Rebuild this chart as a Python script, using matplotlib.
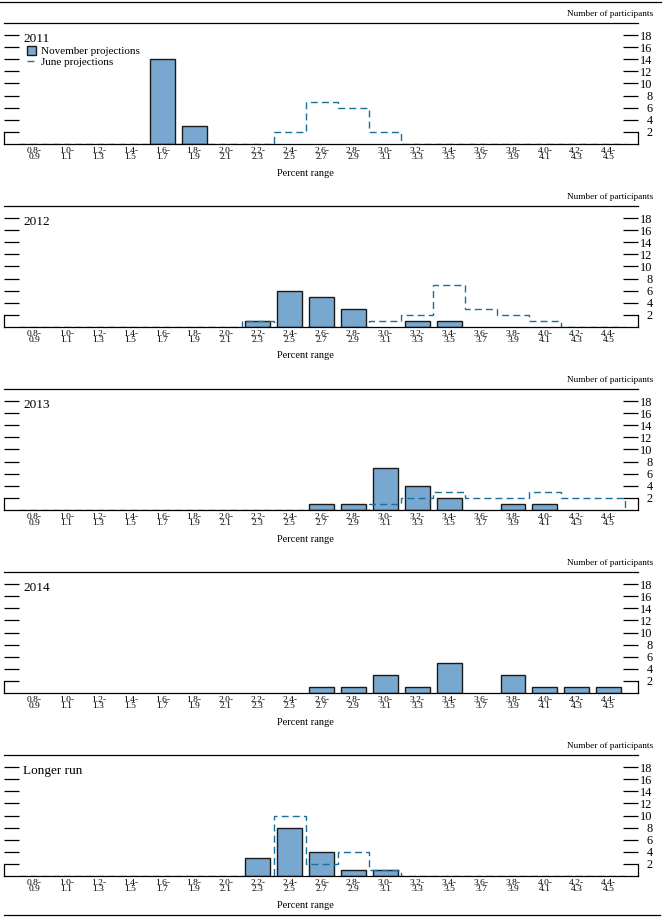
import numpy as np
import matplotlib.pyplot as plt
from matplotlib.lines import Line2D

plt.rcParams['font.family'] = ['Liberation Serif', 'DejaVu Serif']

ranges = ['0.8-\n0.9', '1.0-\n1.1', '1.2-\n1.3', '1.4-\n1.5', '1.6-\n1.7', '1.8-\n1.9',
          '2.0-\n2.1', '2.2-\n2.3', '2.4-\n2.5', '2.6-\n2.7', '2.8-\n2.9', '3.0-\n3.1',
          '3.2-\n3.3', '3.4-\n3.5', '3.6-\n3.7', '3.8-\n3.9', '4.0-\n4.1', '4.2-\n4.3',
          '4.4-\n4.5']
panels = ['2011', '2012', '2013', '2014', 'Longer run']

# number of participants per range
nov_2011 = [0, 0, 0, 0, 14, 3, 0, 0, 0, 0, 0, 0, 0, 0, 0, 0, 0, 0, 0]
jun_2011 = [0, 0, 0, 0, 0, 0, 0, 0, 2, 7, 6, 2, 0, 0, 0, 0, 0, 0, 0]
nov_2012 = [0, 0, 0, 0, 0, 0, 0, 1, 6, 5, 3, 0, 1, 1, 0, 0, 0, 0, 0]
jun_2012 = [0, 0, 0, 0, 0, 0, 0, 1, 0, 0, 0, 1, 2, 7, 3, 2, 1, 0, 0]
nov_2013 = [0, 0, 0, 0, 0, 0, 0, 0, 0, 1, 1, 7, 4, 2, 0, 1, 1, 0, 0]
jun_2013 = [0, 0, 0, 0, 0, 0, 0, 0, 0, 0, 0, 1, 2, 3, 2, 2, 3, 2, 2]
nov_2014 = [0, 0, 0, 0, 0, 0, 0, 0, 0, 1, 1, 3, 1, 5, 0, 3, 1, 1, 1]
nov_lr = [0, 0, 0, 0, 0, 0, 0, 3, 8, 4, 1, 1, 0, 0, 0, 0, 0, 0, 0]
jun_lr = [0, 0, 0, 0, 0, 0, 0, 0, 10, 2, 4, 1, 0, 0, 0, 0, 0, 0, 0]

november = [nov_2011, nov_2012, nov_2013, nov_2014, nov_lr]
june = [jun_2011, jun_2012, jun_2013, None, jun_lr]

bar_color = '#78a8cf'
dash_color = '#1a6e9c'

W, H = 664, 921
fig = plt.figure(figsize=(W / 100, H / 100), dpi=100)

x = np.arange(len(ranges))
edges = np.arange(len(ranges) + 1) - 0.5

for k, name in enumerate(panels):
    top = 23 + 183 * k
    bot = 144 + 183 * k
    ax = fig.add_axes([4 / W, 1 - bot / H, 634 / W, (bot - top) / H])

    vals = np.array(november[k])
    keep = vals > 0
    bars = ax.bar(x[keep], vals[keep], width=0.78, color=bar_color,
                  edgecolor='#1a1a1a', linewidth=1.0, zorder=2,
                  label='November projections')
    handles = [bars]
    if june[k] is not None:
        st = ax.stairs(june[k], edges, color=dash_color, linewidth=1.0,
                       linestyle=(0, (5, 3)), zorder=3, label='June projections')
        handles.append(st)

    ax.set_xlim(-0.96, 18.92)
    ax.set_ylim(0, 20)
    ax.set_yticks(np.arange(2, 19, 2))
    ax.set_xticks(x)
    ax.set_xticklabels(ranges, fontsize=6.8, linespacing=0.75)
    ax.tick_params(axis='x', length=0, pad=2)
    ax.tick_params(axis='y', left=True, right=True, direction='in', length=10.5,
                   width=0.9, labelleft=False, labelright=True, labelsize=8.8, pad=10.5)
    for t in ax.yaxis.get_major_ticks():
        t.label2.set_horizontalalignment('right')

    for s in ax.spines.values():
        s.set_linewidth(0.9)
        s.set_zorder(5)
    ax.spines['left'].set_bounds(0, 2)
    ax.spines['right'].set_bounds(0, 2)

    ax.text(19 / 634, (144 - 42) / 121, name, transform=ax.transAxes,
            fontsize=9.5, ha='left', va='baseline')
    ax.text(301 / 634, -29 / 121, 'Percent range', transform=ax.transAxes,
            fontsize=7.5, ha='center', va='center')
    fig.text(653 / W, 1 - (top - 9) / H, 'Number of participants',
             fontsize=6.7, ha='right', va='center')

    if k == 0:
        ax.legend(handles=handles, loc='upper left',
                  bbox_to_anchor=(23 / 634, (144 - 46) / 121),
                  frameon=False, fontsize=8, borderpad=0, borderaxespad=0,
                  handlelength=0.8, handleheight=0.8, handletextpad=0.5,
                  labelspacing=0.05)

fig.add_artist(Line2D([0, 661 / W], [1 - 2.5 / H, 1 - 2.5 / H], color='black', linewidth=0.9))
fig.add_artist(Line2D([4 / W, 660 / W], [1 - 915 / H, 1 - 915 / H], color='black', linewidth=0.9))

fig.savefig('out.png', dpi=100)
